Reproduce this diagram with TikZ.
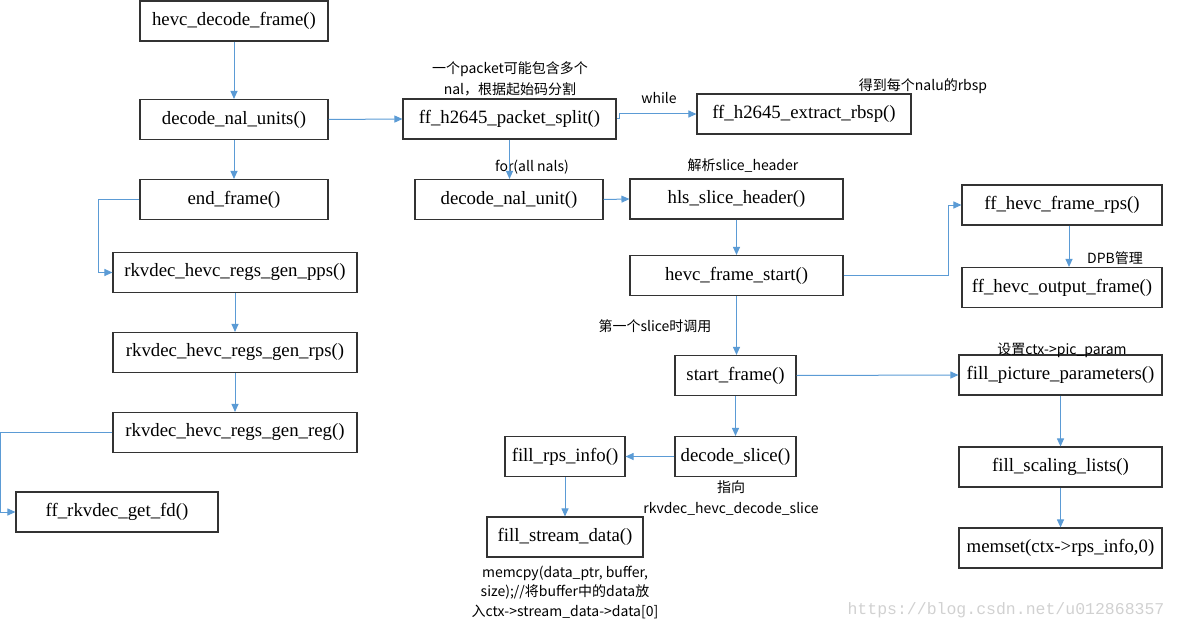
\documentclass[tikz,border=0pt]{standalone}
\usepackage{fontspec}
\setmainfont{Liberation Serif}
\newfontfamily\cjk{Noto Sans CJK SC}
\newfontfamily\wmfont{Liberation Mono}
\usetikzlibrary{arrows.meta}
\definecolor{lineblue}{HTML}{5B9BD5}
\definecolor{boxline}{HTML}{333333}
\begin{document}
\begin{tikzpicture}[x=1pt,y=-1pt,
  fbox/.style={draw=boxline,line width=1.1pt,inner sep=0pt,minimum height=40pt,font=\fontsize{18.8}{21}\selectfont},
  lbl/.style={inner sep=0pt,font=\cjk\fontsize{14}{21}\selectfont,align=center},
  arr/.style={draw=lineblue,line width=1pt,-{Triangle[length=8pt,width=7pt]}}]
\useasboundingbox (0,0) rectangle (1177,631);
% left column
\node[fbox,minimum width=188pt] (hdf) at (234,21) {hevc\_decode\_frame()};
\node[fbox,minimum width=188pt] (dnu) at (234,119.5) {decode\_nal\_units()};
\node[fbox,minimum width=188pt] (ef) at (234,199.5) {end\_frame()};
\node[fbox,minimum width=244pt] (pps) at (235,272.5) {rkvdec\_hevc\_regs\_gen\_pps()};
\node[fbox,minimum width=244pt] (rps) at (235,352.5) {rkvdec\_hevc\_regs\_gen\_rps()};
\node[fbox,minimum width=244pt] (reg) at (235,432.5) {rkvdec\_hevc\_regs\_gen\_reg()};
\node[fbox,minimum width=202pt] (fd) at (117,512) {ff\_rkvdec\_get\_fd()};
% middle
\node[fbox,minimum width=213pt] (split) at (509.5,119) {ff\_h2645\_packet\_split()};
\node[fbox,minimum width=214pt] (rbsp) at (804,114) {ff\_h2645\_extract\_rbsp()};
\node[fbox,minimum width=188pt] (dnunit) at (509,199.5) {decode\_nal\_unit()};
\node[fbox,minimum width=213pt] (hls) at (736.5,199) {hls\_slice\_header()};
\node[fbox,minimum width=213pt] (hfs) at (736.5,275.5) {hevc\_frame\_start()};
\node[fbox,minimum width=200pt] (frps) at (1062,205) {ff\_hevc\_frame\_rps()};
\node[fbox,minimum width=200pt] (hof) at (1062,287.5) {ff\_hevc\_output\_frame()};
\node[fbox,minimum width=121pt] (sf) at (735.5,375.5) {start\_frame()};
\node[fbox,minimum width=121pt] (ds) at (735.5,456.5) {decode\_slice()};
\node[fbox,minimum width=120pt] (fri) at (565,456.5) {fill\_rps\_info()};
\node[fbox,minimum width=156pt] (fsd) at (565,537) {fill\_stream\_data()};
\node[fbox,minimum width=203pt] (fpp) at (1060.5,375) {fill\_picture\_parameters()};
\node[fbox,minimum width=203pt] (fsl) at (1060.5,467) {fill\_scaling\_lists()};
\node[fbox,minimum width=203pt] (mem) at (1060.5,548) {memset(ctx->rps\_info,0)};
% labels
\node[lbl] (l1) at (510,78.5) {一个packet可能包含多个\\nal，根据起始码分割};
\node[lbl] (l2) at (659,98) {while};
\node[lbl] (l3) at (923,86) {得到每个nalu的rbsp};
\node[lbl] (l4) at (532,167) {for(all nals)};
\node[lbl] (l5) at (743,166) {解析slice\_header};
\node[lbl] (l6) at (1115,258) {DPB管理};
\node[lbl] (l7) at (655,326) {第一个slice时调用};
\node[lbl] (l8) at (1062,350) {设置ctx->pic\_param};
\node[lbl] (l9) at (731,498.5) {指向\\rkvdec\_hevc\_decode\_slice};
\node[lbl,font=\cjk\fontsize{14}{19.5}\selectfont] (l10) at (565,592) {memcpy(data\_ptr, buffer,\\size);//将buffer中的data放\\入ctx->stream\_data->data[0]};
\node[inner sep=0pt,text=black!18,font=\wmfont\fontsize{16.5}{18}\selectfont] (wm) at (1006,610) {https://blog.csdn.net/u012868357};
% connectors
\draw[arr] (hdf.south) -- (dnu.north);
\draw[arr] (dnu.south) -- (ef.north);
\draw[arr] (dnu.east) -- (split.west);
\draw[arr] (ef.west) -- ++(-41,0) |- (pps.west);
\draw[arr] (pps.south) -- (rps.north);
\draw[arr] (rps.south) -- (reg.north);
\draw[arr] (reg.west) -- ++(-112,0) |- (fd.west);
\draw[arr] (split.east) -- ++(3,0) |- (rbsp.west);
\draw[arr] (split.south) -- (split.south |- dnunit.north);
\draw[arr] (dnunit.east) -- (hls.west);
\draw[arr] (hls.south) -- (hfs.north);
\draw[arr] (hfs.east) -- ++(105,0) |- (frps.west);
\draw[arr] ([xshift=7pt]frps.south) -- ([xshift=7pt]hof.north);
\draw[arr] (hfs.south) -- (hfs.south |- sf.north);
\draw[arr] (sf.east) -- (fpp.west);
\draw[arr] (sf.south) -- (ds.north);
\draw[arr] (ds.west) -- (fri.east);
\draw[arr] (fri.south) -- (fsd.north);
\draw[arr] (fpp.south) -- (fsl.north);
\draw[arr] (fsl.south) -- (mem.north);
\end{tikzpicture}
\end{document}
